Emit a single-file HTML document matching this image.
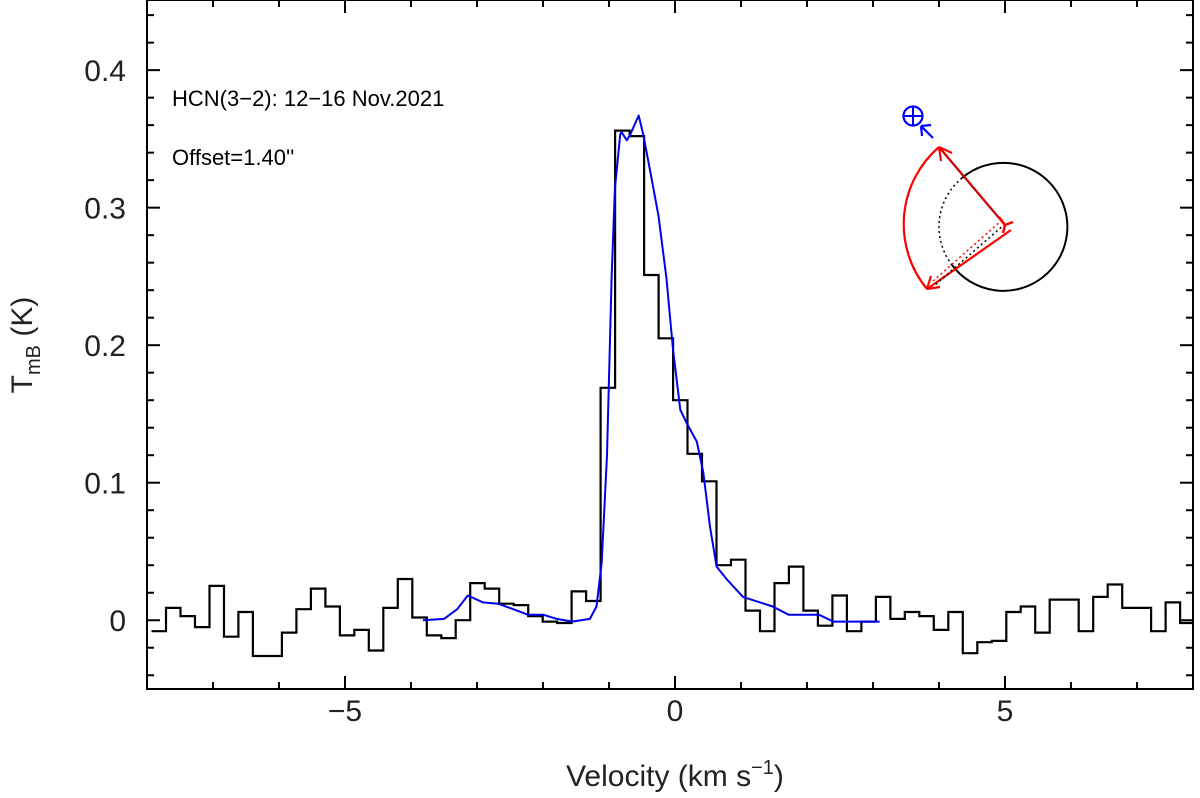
<!DOCTYPE html>
<html><head><meta charset="utf-8"><style>
html,body{margin:0;padding:0;background:#fff;}
svg{display:block;font-family:"Liberation Sans","DejaVu Sans",sans-serif;}
</style></head><body>
<svg id="chart" width="1200" height="798" viewBox="0 0 1200 798">
<g id="marks"></g>
<g id="axes"></g>
<text x="172" y="106" font-size="22">HCN(3−2): 12−16 Nov.2021</text>
<text x="172" y="165" font-size="22">Offset=1.40''</text>
<g>
  <path d="M962,178 A64,64 0 1 1 952,265" fill="none" stroke="#000" stroke-width="2"/>
  <path d="M962,178 A63,63 0 0 0 952,265" fill="none" stroke="#000" stroke-width="1.5" stroke-dasharray="2,3"/>
  <path d="M939,147 A102,102 0 0 0 927,289" fill="none" stroke="red" stroke-width="2.2"/>
  <line x1="1005" y1="225" x2="939" y2="147" stroke="#c00" stroke-width="2.2"/>
  <line x1="1011" y1="230" x2="927" y2="289" stroke="red" stroke-width="2.2"/>
  <line x1="1002" y1="220" x2="932" y2="282" stroke="red" stroke-width="1.5" stroke-dasharray="2,3"/>
  <line x1="1005" y1="224" x2="935" y2="285" stroke="#000" stroke-width="1.5" stroke-dasharray="2,3"/>
  <path d="M939,147 l2,14 M939,147 l13,6" stroke="red" stroke-width="2.2" fill="none"/>
  <path d="M927,289 l4,-13 M927,289 l13,-2" stroke="red" stroke-width="2.2" fill="none"/>
  <path d="M1005,225 l-6,-8 M1005,225 l8,-3 M1005,225 l-2,8" stroke="red" stroke-width="2.5" fill="none"/>
  <circle cx="913" cy="116" r="9.5" fill="none" stroke="blue" stroke-width="2.2"/>
  <path d="M903.5,116 h19 M913,106.5 v19" stroke="blue" stroke-width="2"/>
  <path d="M933,138 L921,126 M921,126 l1,10 M921,126 l10,-1" stroke="blue" stroke-width="2.2" fill="none"/>
</g>
<text x="675" y="786" font-size="30" text-anchor="middle" fill="#222">Velocity (km s<tspan dy="-12" font-size="20">−1</tspan><tspan dy="12">)</tspan></text>
<text transform="translate(32,345) rotate(-90)" font-size="30" text-anchor="middle" fill="#222">T<tspan dy="8" font-size="20">mB</tspan><tspan dy="-8"> (K)</tspan></text>
</svg>
<script>
const v0 = -7.712;      // left edge of first full channel (km/s)
const dv = 0.2195;      // channel width (km/s)
const obsValues = [-0.008,
 0.009,0.003,-0.005,0.025,-0.012,0.006,-0.026,-0.026,-0.009,0.008,
 0.023,0.010,-0.011,-0.007,-0.022,0.009,0.030,0.002,-0.011,-0.013,
 0.000,0.027,0.023,0.012,0.011,0.003,-0.001,-0.002,0.021,0.014,
 0.169,0.356,0.352,0.251,0.205,0.160,0.121,0.101,0.040,0.044,
 0.007,-0.008,0.027,0.039,0.007,-0.004,0.018,-0.008,-0.001,0.017,
 0.001,0.006,0.003,-0.007,0.006,-0.024,-0.016,-0.015,0.006,0.010,
 -0.009,0.015,0.015,-0.008,0.017,0.026,0.009,0.009,-0.008,0.013,-0.002];
const modelV = [-3.82,-3.5,-3.3,-3.14,-2.91,-2.68,-2.45,-2.23,-2.0,-1.79,-1.56,-1.29,-1.19,-1.11,-1.03,-0.96,-0.91,-0.83,-0.81,-0.73,-0.68,-0.55,-0.48,-0.35,-0.25,-0.13,-0.03,0.08,0.18,0.33,0.43,0.53,0.63,0.78,1.03,1.29,1.48,1.72,2.18,2.4,3.1];
const modelT = [0.0,0.001,0.008,0.018,0.013,0.012,0.008,0.004,0.004,0.001,-0.001,0.001,0.010,0.042,0.120,0.249,0.314,0.353,0.355,0.349,0.353,0.367,0.353,0.320,0.294,0.249,0.197,0.153,0.143,0.130,0.107,0.068,0.039,0.030,0.017,0.013,0.010,0.004,0.004,-0.001,-0.001];
const xTicks = [-5,0,5];
const xTickLabels = ["−5","0","5"];
const yTicks = [0,0.1,0.2,0.3,0.4];
const yTickLabels = ["0","0.1","0.2","0.3","0.4"];

const L=147,R=1193,T=0,B=689, XMIN=-8, XMAX=XMIN+(R-L)/66;
const YMIN=-0.05,YMAX=0.451;
const sx=v=>L+(v-XMIN)/(XMAX-XMIN)*(R-L);
const sy=t=>B-(t-YMIN)/(YMAX-YMIN)*(B-T);
const NS="http://www.w3.org/2000/svg";
const marks=document.getElementById('marks'), axes=document.getElementById('axes');
function mk(tag,attrs,parent){const e=document.createElementNS(NS,tag);for(const k in attrs)e.setAttribute(k,attrs[k]);parent.appendChild(e);return e;}

let d="";
obsValues.forEach((t,i)=>{
  let a=v0+(i-1)*dv, b=a+dv;
  a=Math.max(a,XMIN); b=Math.min(b,XMAX);
  d+=(i===0?"M":"L")+sx(a).toFixed(1)+","+sy(t).toFixed(1)+" L"+sx(b).toFixed(1)+","+sy(t).toFixed(1)+" ";
});
const hist=mk('path',{d:d,fill:"none",stroke:"#000","stroke-width":2.2},marks);



let pts=modelV.map((v,i)=>sx(v).toFixed(1)+","+sy(modelT[i]).toFixed(1)).join(" ");
const model=mk('polyline',{points:pts,fill:"none",stroke:"#0000ee","stroke-width":2,"stroke-linejoin":"round"},marks);



const frame=mk('rect',{x:L,y:T,width:R-L,height:B-T,fill:"none",stroke:"#000","stroke-width":2},axes);



for(let v=-8;v<=XMAX;v+=1){
  const x=sx(v), major=(v%5===0), len=major?13:7;
  mk('line',{x1:x,y1:B,x2:x,y2:B-len,stroke:"#000","stroke-width":2},axes);
  mk('line',{x1:x,y1:T,x2:x,y2:T+len,stroke:"#000","stroke-width":2},axes);
}
xTicks.forEach((v,i)=>{
  const t=mk('text',{x:sx(v),y:721,"font-size":30,"text-anchor":"middle",fill:"#222"},axes);
  t.textContent=xTickLabels[i];
  
  
});
for(let k=-2;k<=22;k++){
  const t=k*0.02, y=sy(t); if(y<T||y>B)continue;
  const major=(k%5===0), len=major?13:7;
  mk('line',{x1:L,y1:y,x2:L+len,y2:y,stroke:"#000","stroke-width":2},axes);
  mk('line',{x1:R,y1:y,x2:R-len,y2:y,stroke:"#000","stroke-width":2},axes);
}
yTicks.forEach((v,i)=>{
  const t=mk('text',{x:126,y:sy(v)+11,"font-size":30,"text-anchor":"end",fill:"#222"},axes);
  t.textContent=yTickLabels[i];
  
  
});
</script>
</body></html>
